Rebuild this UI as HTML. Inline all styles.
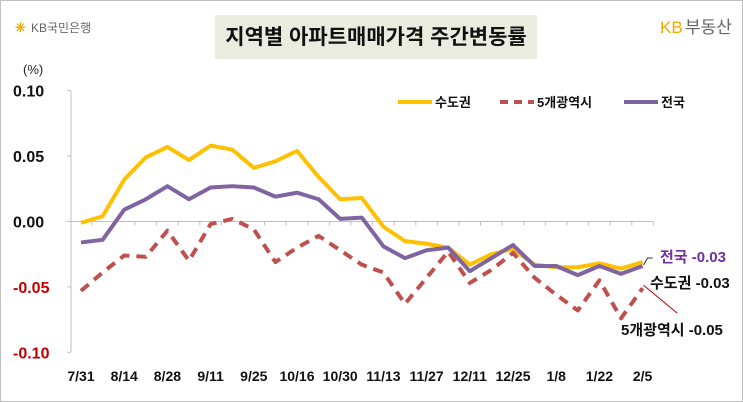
<!DOCTYPE html>
<html><head><meta charset="utf-8"><style>
body{margin:0;background:#fff;}
#wrap{position:relative;width:741px;height:400px;border:1px solid #bfbfbf;overflow:hidden;font-family:"Liberation Sans","Noto Sans CJK KR",sans-serif;}
</style></head><body>
<div id="wrap">
<svg id="chart" width="741" height="400"></svg>
</div>
<script>
const categories=["7/31","8/7","8/14","8/21","8/28","9/4","9/11","9/18","9/25","10/2","10/16","10/23","10/30","11/6","11/13","11/20","11/27","12/4","12/11","12/18","12/25","1/1","1/8","1/15","1/22","1/29","2/5"];
const tickLabels=["7/31","8/14","8/28","9/11","9/25","10/16","10/30","11/13","11/27","12/11","12/25","1/8","1/22","2/5"];
const seoulMetro=[-0.001,0.004,0.032,0.049,0.057,0.047,0.058,0.055,0.041,0.046,0.054,0.034,0.017,0.018,-0.004,-0.015,-0.017,-0.020,-0.033,-0.025,-0.021,-0.033,-0.035,-0.035,-0.032,-0.036,-0.031];
const fiveCities=[-0.053,-0.039,-0.026,-0.027,-0.007,-0.030,-0.002,0.002,-0.006,-0.031,-0.020,-0.011,-0.022,-0.033,-0.039,-0.063,-0.043,-0.023,-0.047,-0.037,-0.024,-0.043,-0.056,-0.068,-0.045,-0.074,-0.051];
const national=[-0.016,-0.014,0.009,0.017,0.027,0.017,0.026,0.027,0.026,0.019,0.022,0.017,0.002,0.003,-0.019,-0.028,-0.022,-0.020,-0.038,-0.028,-0.018,-0.034,-0.034,-0.041,-0.034,-0.040,-0.034];
const yTicks=[0.10,0.05,0.00,-0.05,-0.10];

const svg=document.getElementById('chart');
const NS='http://www.w3.org/2000/svg';
function el(t,a,txt){const e=document.createElementNS(NS,t);for(const k in a)e.setAttribute(k,a[k]);if(txt!==undefined)e.textContent=txt;svg.appendChild(e);return e;}
const x0=80,dx=21.6;
function xs(i){return x0+i*dx;}
function ys(v){return 220.5-v/0.05*65.4;}

// logos
let t=el('text',{x:14,y:31,'font-size':13,fill:'#f2a900','font-weight':'bold'},'✳');

t=el('text',{x:30,y:31,'font-size':12,fill:'#666'},'KB국민은행');

t=el('text',{x:659,y:32,'font-size':17,fill:'#f2a900'},'KB');

t=el('text',{x:684,y:32,'font-size':17,fill:'#666'},'부동산');


// title
let r=el('rect',{x:214,y:14,width:322,height:44,fill:'#e9ecdf'});

t=el('text',{x:375,y:43,'font-size':21,'font-weight':'bold','text-anchor':'middle',fill:'#111'},'지역별 아파트매매가격 주간변동률');


t=el('text',{x:22,y:73,'font-size':13,fill:'#222'},'(%)');


// axes
let ax=el('line',{x1:70,y1:90,x2:70,y2:351,stroke:'#bfbfbf'});

yTicks.forEach(v=>{
 const y=ys(v);
 const tk=el('line',{x1:66,y1:y,x2:70,y2:y,stroke:'#bfbfbf'});
 
 const lb=el('text',{x:12,y:y+6,'font-size':16,'font-weight':'bold',fill:v<0?'#c00000':'#111'},v.toFixed(2));
 
});
let zl=el('line',{x1:70,y1:ys(0),x2:652,y2:ys(0),stroke:'#bfbfbf'});

categories.forEach((c,i)=>{
 const x=xs(i)+10.8;
 const tk=el('line',{x1:x,y1:ys(0),x2:x,y2:ys(0)+4,stroke:'#bfbfbf'});
 
});
tickLabels.forEach((c,j)=>{
 const lb=el('text',{x:xs(j*2),y:380,'font-size':14,'font-weight':'bold','text-anchor':'middle',fill:'#111'},c);
 
});

function line(arr,color,dash,name){
 const p=el('polyline',{points:arr.map((v,i)=>xs(i)+','+ys(v)).join(' '),fill:'none',stroke:color,'stroke-width':4,'stroke-linejoin':'round'});
 if(dash)p.setAttribute('stroke-dasharray',dash);
 
}
line(seoulMetro,'#ffc000',null,'series-seoul-metro');
line(fiveCities,'#c0504d','10,7','series-five-cities');
line(national,'#8064a2',null,'series-national');

// legend
function leg(x,color,dash,label,name){
 const l=el('line',{x1:x,y1:101,x2:x+34,y2:101,stroke:color,'stroke-width':4});
 if(dash)l.setAttribute('stroke-dasharray',dash);
 
 const tx=el('text',{x:x+37,y:106,'font-size':13,'font-weight':'bold',fill:'#111'},label);
 
}
leg(397,'#ffc000',null,'수도권','legend-seoul-metro');
leg(499,'#c0504d','8,6','5개광역시','legend-five-cities');
leg(623,'#8064a2',null,'전국','legend-national');

// end annotations
const last=categories.length-1;
let ld=el('polyline',{points:(xs(last)+1)+','+(ys(national[last])-1)+' '+(xs(last)+5)+','+(ys(national[last])-8)+' '+(xs(last)+10)+','+(ys(national[last])-8),fill:'none',stroke:'#333','stroke-width':1});

t=el('text',{x:659,y:261,'font-size':15,'font-weight':'bold',fill:'#7030a0'},'전국 -0.03');

t=el('text',{x:649,y:287,'font-size':15,'font-weight':'bold',fill:'#111'},'수도권 -0.03');

ld=el('line',{x1:xs(last)+1,y1:ys(fiveCities[last])-3,x2:676,y2:312,stroke:'#c00000','stroke-width':1});

t=el('text',{x:620,y:334,'font-size':15,'font-weight':'bold',fill:'#111'},'5개광역시 -0.05');

</script>
</body></html>
